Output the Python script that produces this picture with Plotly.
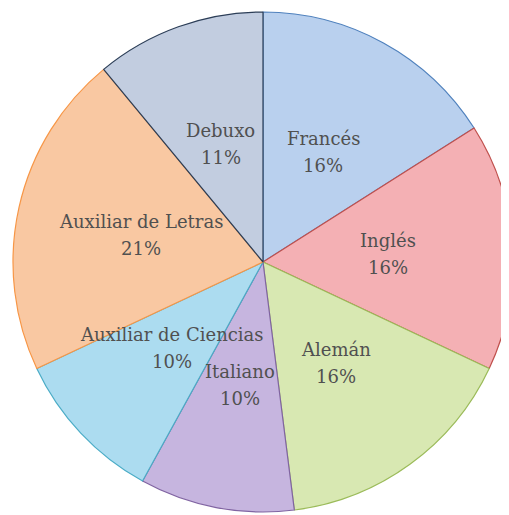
import math
import plotly.graph_objects as go

labels = ["Francés", "Inglés", "Alemán", "Italiano", "Auxiliar de Ciencias", "Auxiliar de Letras", "Debuxo"]
values = [16, 16, 16, 10, 10, 21, 11]
fill_colors = ["#b9d0ee", "#f4b0b4", "#d8e8b2", "#c6b5df", "#acdcf0", "#f9c8a2", "#c2cde0"]
line_colors = ["#4f81bd", "#c0504d", "#9bbb59", "#8064a2", "#4bacc6", "#f79646", "#2c3e57"]

W, H = 509, 515
# pie placement in figure pixels (page body adds an 8px offset)
CX, CY, R = 255, 254, 250

fig = go.Figure(go.Pie(
    labels=labels,
    values=values,
    sort=False,
    direction="clockwise",
    rotation=0,
    marker=dict(colors=fill_colors, line=dict(color=line_colors, width=1.2)),
    textinfo="none",
    hoverinfo="label+percent",
    domain=dict(x=[(CX - R) / W, (CX + R) / W], y=[(H - CY - R) / H, (H - CY + R) / H]),
    showlegend=False,
))

total = sum(values)
cum = 0
font = dict(family="DejaVu Serif", size=18, color="#505050")
for lab, v in zip(labels, values):
    mid = (cum + v / 2) / total * 2 * math.pi
    cum += v
    px = CX + 0.5 * R * math.sin(mid)
    py = CY - 0.5 * R * math.cos(mid)
    xa = px / W
    ya = 1 - py / H
    pct = f"{round(v / total * 100)}%"
    fig.add_annotation(x=xa, y=ya, xref="paper", yref="paper", text=lab,
                       showarrow=False, font=font, xanchor="center", yanchor="middle",
                       yshift=13.5)
    fig.add_annotation(x=xa, y=ya, xref="paper", yref="paper", text=pct,
                       showarrow=False, font=font, xanchor="center", yanchor="middle",
                       yshift=-13.5)

fig.update_layout(
    width=W, height=H, autosize=False,
    margin=dict(l=0, r=0, t=0, b=0),
    paper_bgcolor="white",
)
fig.write_html("out.html")
